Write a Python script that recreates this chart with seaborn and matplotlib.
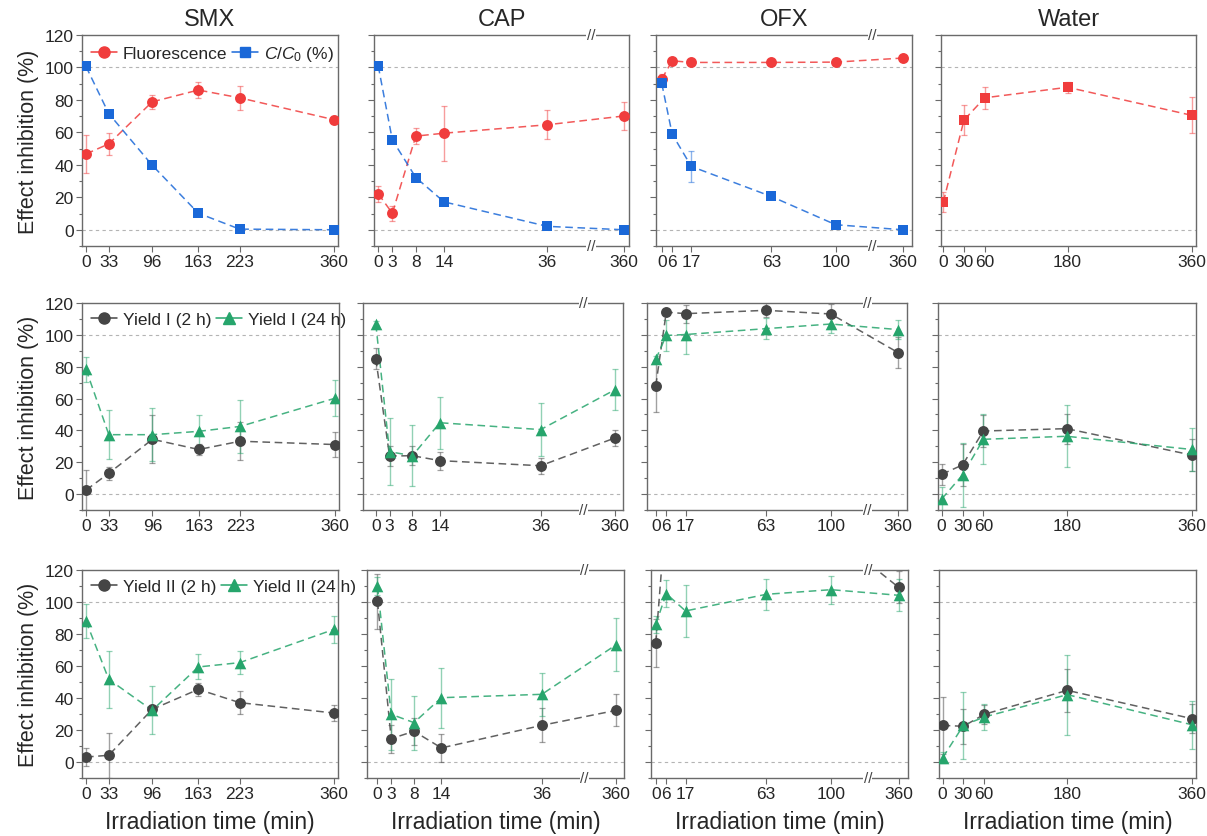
import numpy as np
import matplotlib
matplotlib.use('Agg')
import matplotlib.pyplot as plt
from matplotlib.lines import Line2D
from matplotlib.ticker import MultipleLocator
import seaborn as sns

# Irradiation times (min) for each matrix
t_smx = [0, 33, 96, 163, 223, 360]
t_cap = [0, 3, 8, 14, 36, 360]
t_ofx = [0, 6, 17, 63, 100, 360]
t_water = [0, 30, 60, 180, 360]

# Row 1: fluorescence inhibition and C/C0
smx_fluor = [46.7, 52.9, 78.8, 86.1, 81.3, 67.8]
smx_fluor_err = [11.7, 7.0, 4.5, 5.0, 7.5, 2.0]
smx_conc = [100.6, 71.6, 39.8, 10.2, 0.4, 0.0]
smx_conc_err = [1.0, 1.0, 1.0, 1.0, 0.5, 0.5]
cap_fluor = [22.2, 10.2, 57.7, 59.5, 64.7, 70.1]
cap_fluor_err = [5.0, 4.5, 5.0, 17.0, 8.8, 8.4]
cap_conc = [101.0, 55.4, 32.2, 17.2, 2.1, 0.0]
cap_conc_err = [0.5, 2.0, 1.0, 1.0, 0.5, 0.5]
ofx_fluor = [92.9, 104.1, 103.1, 103.1, 103.3, 105.8]
ofx_fluor_err = [3.0, 1.0, 0.8, 0.8, 0.8, 0.8]
ofx_conc = [90.2, 58.9, 39.0, 20.5, 3.1, 0.0]
ofx_conc_err = [2.0, 1.0, 9.6, 0.5, 0.5, 0.3]
water_fluor = [17.0, 67.6, 81.3, 87.8, 70.5]
water_fluor_err = [6.0, 9.0, 6.7, 3.5, 11.0]

# Row 2: Yield I
smx_y1_2h = [2.5, 13.1, 34.4, 28.0, 33.2, 31.1]
smx_y1_2h_err = [12.7, 4.2, 15.0, 3.5, 12.0, 7.6]
smx_y1_24h = [78.4, 37.3, 37.3, 39.4, 42.5, 60.2]
smx_y1_24h_err = [8.0, 15.5, 16.5, 10.4, 16.5, 11.4]
cap_y1_2h = [85.0, 23.9, 24.1, 21.0, 17.8, 35.3]
cap_y1_2h_err = [6.5, 6.5, 6.0, 5.7, 4.9, 5.2]
cap_y1_24h = [106.8, 26.6, 24.1, 44.8, 40.5, 65.6]
cap_y1_24h_err = [2.0, 21.0, 19.0, 16.3, 16.6, 12.7]
ofx_y1_2h = [68.0, 114.3, 113.3, 115.4, 113.1, 88.8]
ofx_y1_2h_err = [16.5, 2.0, 5.7, 4.5, 6.5, 9.7]
ofx_y1_24h = [84.6, 99.6, 100.2, 103.9, 106.8, 103.3]
ofx_y1_24h_err = [2.0, 10.0, 12.4, 6.5, 5.7, 6.2]
water_y1_2h = [12.4, 18.3, 39.6, 41.1, 24.5]
water_y1_2h_err = [6.7, 13.0, 9.8, 9.5, 10.0]
water_y1_24h = [-3.1, 12.0, 34.4, 36.3, 28.0]
water_y1_24h_err = [7.3, 20.0, 15.6, 19.5, 13.7]

# Row 3: Yield II
smx_y2_2h = [3.1, 4.2, 32.9, 45.4, 37.1, 30.6]
smx_y2_2h_err = [5.7, 14.0, 3.0, 4.0, 7.0, 5.2]
smx_y2_24h = [88.1, 51.7, 32.3, 59.4, 62.1, 82.9]
smx_y2_24h_err = [10.7, 17.7, 15.0, 7.8, 7.0, 8.4]
cap_y2_2h = [100.4, 14.6, 19.2, 8.8, 22.9, 32.3]
cap_y2_2h_err = [17.0, 8.8, 8.5, 9.0, 10.7, 9.9]
cap_y2_24h = [109.8, 29.8, 24.6, 40.2, 42.3, 73.3]
cap_y2_24h_err = [5.7, 22.0, 16.8, 18.7, 13.5, 16.4]
ofx_y2_2h = [74.4, 158.0, 150.0, 148.0, 143.0, 109.2]
ofx_y2_2h_err = [15.0, 10.0, 10.0, 10.0, 10.0, 10.0]
ofx_y2_24h = [86.0, 105.2, 94.4, 104.8, 107.7, 104.2]
ofx_y2_24h_err = [5.5, 8.6, 16.0, 9.6, 8.8, 10.0]
water_y2_2h = [22.9, 22.3, 29.8, 44.8, 27.1]
water_y2_2h_err = [18.0, 10.8, 6.0, 13.6, 9.0]
water_y2_24h = [2.7, 22.9, 28.1, 42.1, 23.3]
water_y2_24h_err = [3.5, 21.0, 8.3, 25.0, 14.9]

titles = ['SMX', 'CAP', 'OFX', 'Water']
times = [t_smx, t_cap, t_ofx, t_water]
legend_labels = [['Fluorescence', r'$C/C_0$ (%)'],
                 ['Yield I (2 h)', 'Yield I (24 h)'],
                 ['Yield II (2 h)', 'Yield II (24 h)']]

RED = '#f03c3c'
BLUE = '#1a68d8'
GRAY = '#454545'
GREEN = '#26a56c'

# series per panel: (values, errors, color, marker)
panels = {
    (0, 0): [(smx_fluor, smx_fluor_err, RED, 'o'), (smx_conc, smx_conc_err, BLUE, 's')],
    (0, 1): [(cap_fluor, cap_fluor_err, RED, 'o'), (cap_conc, cap_conc_err, BLUE, 's')],
    (0, 2): [(ofx_fluor, ofx_fluor_err, RED, 'o'), (ofx_conc, ofx_conc_err, BLUE, 's')],
    (0, 3): [(water_fluor, water_fluor_err, RED, 's')],
    (1, 0): [(smx_y1_2h, smx_y1_2h_err, GRAY, 'o'), (smx_y1_24h, smx_y1_24h_err, GREEN, '^')],
    (1, 1): [(cap_y1_2h, cap_y1_2h_err, GRAY, 'o'), (cap_y1_24h, cap_y1_24h_err, GREEN, '^')],
    (1, 2): [(ofx_y1_2h, ofx_y1_2h_err, GRAY, 'o'), (ofx_y1_24h, ofx_y1_24h_err, GREEN, '^')],
    (1, 3): [(water_y1_2h, water_y1_2h_err, GRAY, 'o'), (water_y1_24h, water_y1_24h_err, GREEN, '^')],
    (2, 0): [(smx_y2_2h, smx_y2_2h_err, GRAY, 'o'), (smx_y2_24h, smx_y2_24h_err, GREEN, '^')],
    (2, 1): [(cap_y2_2h, cap_y2_2h_err, GRAY, 'o'), (cap_y2_24h, cap_y2_24h_err, GREEN, '^')],
    (2, 2): [(ofx_y2_2h, ofx_y2_2h_err, GRAY, 'o'), (ofx_y2_24h, ofx_y2_24h_err, GREEN, '^')],
    (2, 3): [(water_y2_2h, water_y2_2h_err, GRAY, 'o'), (water_y2_24h, water_y2_24h_err, GREEN, '^')],
}

# axes boxes in pixels: left, right, top, bottom
boxes = {
    (0, 0): (82, 338, 36, 247), (0, 1): (374, 629, 36, 247),
    (0, 2): (656, 912, 36, 247), (0, 3): (941, 1196, 36, 247),
    (1, 0): (82, 339, 304, 511), (1, 1): (363, 623, 304, 511),
    (1, 2): (647, 907, 304, 511), (1, 3): (938, 1196, 304, 511),
    (2, 0): (82, 338, 571, 779), (2, 1): (367, 624, 571, 779),
    (2, 2): (651, 908, 571, 779), (2, 3): (939, 1196, 571, 779),
}
# x limits in scaled units
xlims = {
    (0, 0): (-5.8, 365.7), (0, 1): (-0.9, 53.4), (0, 2): (-3.3, 143.8), (0, 3): (-3.3, 366),
    (1, 0): (-5.8, 365.7), (1, 1): (-2.8, 54.0), (1, 2): (-5.0, 143.5), (1, 3): (-5.3, 366),
    (2, 0): (-5.8, 365.7), (2, 1): (-2.3, 54.0), (2, 2): (-2.7, 143.9), (2, 3): (-5.3, 366),
}
# broken axis: (break position, scaled position of 360)
breaks = {1: (45.3, 52.3), 2: (121.0, 138.5)}


def make_scale(b, end):
    k = (end - b) / (360 - b)

    def fwd(x):
        x = np.asarray(x, dtype=float)
        return np.where(x <= b, x, b + (x - b) * k)

    def inv(y):
        y = np.asarray(y, dtype=float)
        return np.where(y <= b, y, b + (y - b) / k)
    return fwd, inv


sns.set_style('ticks')
plt.rcParams['font.family'] = ['Liberation Sans', 'DejaVu Sans']
plt.rcParams['mathtext.fontset'] = 'custom'
plt.rcParams['mathtext.rm'] = 'Liberation Sans'
plt.rcParams['mathtext.it'] = 'Liberation Sans:italic'

W, H = 1207, 837
fig = plt.figure(figsize=(W / 100, H / 100), dpi=100)
SPINE = '#6a6a6a'

for (r, c), series in panels.items():
    l, rr, t, b = boxes[(r, c)]
    ax = fig.add_axes([l / W, 1 - b / H, (rr - l) / W, (b - t) / H])
    if c in breaks:
        fwd, inv = make_scale(*breaks[c])
        ax.set_xscale('function', functions=(fwd, inv))
        x0, x1 = xlims[(r, c)]
        ax.set_xlim(x0, float(inv(x1)))
    else:
        ax.set_xlim(*xlims[(r, c)])
    ax.set_ylim(-10, 120)

    for yv in (0, 100):
        ax.axhline(yv, color='#b4b4b4', lw=0.8, ls=(0, (3, 3)), zorder=0)

    x = times[c]
    for vals, err, color, marker in series:
        ax.errorbar(x, vals, yerr=err, fmt='none', ecolor=color, alpha=0.5,
                    elinewidth=1, capsize=2.5, capthick=0.9, zorder=2)
        sns.lineplot(x=x, y=vals, ax=ax, color=color, linewidth=1.1,
                     linestyle=(0, (5, 3)), alpha=0.85, zorder=3)
        size = {'o': 62, 's': 52, '^': 70}[marker]
        sns.scatterplot(x=x, y=vals, ax=ax, color=color, marker=marker, s=size,
                        linewidth=0, zorder=4)

    ax.set_xticks(x)
    ax.set_xticklabels([str(v) for v in x])
    ax.set_yticks(range(0, 121, 20))
    ax.yaxis.set_minor_locator(MultipleLocator(10))
    ax.tick_params(axis='both', which='major', direction='out', length=4,
                   width=0.8, color=SPINE, labelsize=12.5, pad=2)
    ax.tick_params(axis='y', which='minor', direction='out', length=2.5,
                   width=0.8, color=SPINE)
    ax.tick_params(axis='x', which='minor', bottom=False)
    for sp in ax.spines.values():
        sp.set_color(SPINE)
        sp.set_linewidth(1.0)
    ax.set_xlabel('')
    ax.set_ylabel('')

    if c == 0:
        ax.set_ylabel('Effect inhibition (%)', fontsize=15.5, labelpad=4)
        handles = [Line2D([], [], color=col, marker=m, linestyle='-', lw=1.1,
                          markersize=8 if m != 's' else 7.5)
                   for _, _, col, m in series]
        ax.legend(handles, legend_labels[r], loc='upper left', ncol=2,
                  frameon=False, fontsize=12.5, handlelength=1.5,
                  handletextpad=0.35, columnspacing=0.25,
                  borderaxespad=0.2, borderpad=0.3)
    else:
        ax.tick_params(axis='y', labelleft=False)
    if r == 0:
        ax.set_title(titles[c], fontsize=17, pad=7)
    if r == 2:
        ax.set_xlabel('Irradiation time (min)', fontsize=16.5, labelpad=6)

    if c in breaks:
        bx = breaks[c][0]
        for yy in (0, 1):
            ax.text(bx, yy, '//', transform=ax.get_xaxis_transform(), ha='center',
                    va='center', fontsize=11, color='#444444', clip_on=False,
                    bbox=dict(fc='white', ec='none', pad=0.2), zorder=10)

fig.savefig('out.png', dpi=100)
